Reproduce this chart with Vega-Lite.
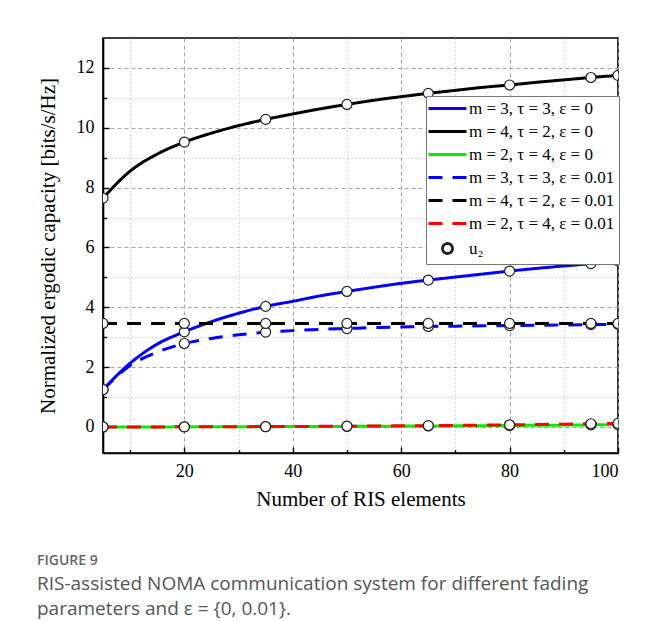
{
  "$schema": "https://vega.github.io/schema/vega-lite/v6.json",
  "width": 515,
  "height": 415,
  "autosize": "none",
  "padding": {"left": 103, "top": 38, "right": 36, "bottom": 168},
  "background": "white",
  "title": {
    "text": "FIGURE 9",
    "subtitle": ["RIS-assisted NOMA communication system for different fading", "parameters and ε = {0, 0.01}."],
    "orient": "bottom",
    "anchor": "start",
    "frame": "bounds",
    "offset": 45,
    "font": "Open Sans",
    "fontSize": 14,
    "fontWeight": 600,
    "color": "#666666",
    "subtitleFont": "Open Sans",
    "subtitleFontSize": 19,
    "subtitleColor": "#555555",
    "subtitlePadding": 7,
    "subtitleLineHeight": 25
  },
  "datasets": {
    "curves": [
      {"x": 5, "y": 1.25, "series": "m = 3, τ = 3, ε = 0"},
      {"x": 10, "y": 2.13, "series": "m = 3, τ = 3, ε = 0"},
      {"x": 15, "y": 2.77, "series": "m = 3, τ = 3, ε = 0"},
      {"x": 20, "y": 3.18, "series": "m = 3, τ = 3, ε = 0"},
      {"x": 25, "y": 3.52, "series": "m = 3, τ = 3, ε = 0"},
      {"x": 30, "y": 3.80, "series": "m = 3, τ = 3, ε = 0"},
      {"x": 35, "y": 4.03, "series": "m = 3, τ = 3, ε = 0"},
      {"x": 40, "y": 4.20, "series": "m = 3, τ = 3, ε = 0"},
      {"x": 45, "y": 4.38, "series": "m = 3, τ = 3, ε = 0"},
      {"x": 50, "y": 4.53, "series": "m = 3, τ = 3, ε = 0"},
      {"x": 55, "y": 4.67, "series": "m = 3, τ = 3, ε = 0"},
      {"x": 60, "y": 4.80, "series": "m = 3, τ = 3, ε = 0"},
      {"x": 65, "y": 4.91, "series": "m = 3, τ = 3, ε = 0"},
      {"x": 70, "y": 5.01, "series": "m = 3, τ = 3, ε = 0"},
      {"x": 75, "y": 5.11, "series": "m = 3, τ = 3, ε = 0"},
      {"x": 80, "y": 5.21, "series": "m = 3, τ = 3, ε = 0"},
      {"x": 85, "y": 5.30, "series": "m = 3, τ = 3, ε = 0"},
      {"x": 90, "y": 5.38, "series": "m = 3, τ = 3, ε = 0"},
      {"x": 95, "y": 5.46, "series": "m = 3, τ = 3, ε = 0"},
      {"x": 100, "y": 5.55, "series": "m = 3, τ = 3, ε = 0"},

      {"x": 5, "y": 7.65, "series": "m = 4, τ = 2, ε = 0"},
      {"x": 10, "y": 8.55, "series": "m = 4, τ = 2, ε = 0"},
      {"x": 15, "y": 9.12, "series": "m = 4, τ = 2, ε = 0"},
      {"x": 20, "y": 9.52, "series": "m = 4, τ = 2, ε = 0"},
      {"x": 25, "y": 9.82, "series": "m = 4, τ = 2, ε = 0"},
      {"x": 30, "y": 10.07, "series": "m = 4, τ = 2, ε = 0"},
      {"x": 35, "y": 10.28, "series": "m = 4, τ = 2, ε = 0"},
      {"x": 40, "y": 10.46, "series": "m = 4, τ = 2, ε = 0"},
      {"x": 45, "y": 10.63, "series": "m = 4, τ = 2, ε = 0"},
      {"x": 50, "y": 10.78, "series": "m = 4, τ = 2, ε = 0"},
      {"x": 55, "y": 10.92, "series": "m = 4, τ = 2, ε = 0"},
      {"x": 60, "y": 11.04, "series": "m = 4, τ = 2, ε = 0"},
      {"x": 65, "y": 11.15, "series": "m = 4, τ = 2, ε = 0"},
      {"x": 70, "y": 11.25, "series": "m = 4, τ = 2, ε = 0"},
      {"x": 75, "y": 11.35, "series": "m = 4, τ = 2, ε = 0"},
      {"x": 80, "y": 11.43, "series": "m = 4, τ = 2, ε = 0"},
      {"x": 85, "y": 11.52, "series": "m = 4, τ = 2, ε = 0"},
      {"x": 90, "y": 11.60, "series": "m = 4, τ = 2, ε = 0"},
      {"x": 95, "y": 11.68, "series": "m = 4, τ = 2, ε = 0"},
      {"x": 100, "y": 11.75, "series": "m = 4, τ = 2, ε = 0"},

      {"x": 5, "y": 0.0, "series": "m = 2, τ = 4, ε = 0"},
      {"x": 10, "y": 0.0, "series": "m = 2, τ = 4, ε = 0"},
      {"x": 15, "y": 0.002, "series": "m = 2, τ = 4, ε = 0"},
      {"x": 20, "y": 0.004, "series": "m = 2, τ = 4, ε = 0"},
      {"x": 25, "y": 0.006, "series": "m = 2, τ = 4, ε = 0"},
      {"x": 30, "y": 0.008, "series": "m = 2, τ = 4, ε = 0"},
      {"x": 35, "y": 0.010, "series": "m = 2, τ = 4, ε = 0"},
      {"x": 40, "y": 0.013, "series": "m = 2, τ = 4, ε = 0"},
      {"x": 45, "y": 0.016, "series": "m = 2, τ = 4, ε = 0"},
      {"x": 50, "y": 0.020, "series": "m = 2, τ = 4, ε = 0"},
      {"x": 55, "y": 0.024, "series": "m = 2, τ = 4, ε = 0"},
      {"x": 60, "y": 0.028, "series": "m = 2, τ = 4, ε = 0"},
      {"x": 65, "y": 0.033, "series": "m = 2, τ = 4, ε = 0"},
      {"x": 70, "y": 0.038, "series": "m = 2, τ = 4, ε = 0"},
      {"x": 75, "y": 0.044, "series": "m = 2, τ = 4, ε = 0"},
      {"x": 80, "y": 0.050, "series": "m = 2, τ = 4, ε = 0"},
      {"x": 85, "y": 0.056, "series": "m = 2, τ = 4, ε = 0"},
      {"x": 90, "y": 0.063, "series": "m = 2, τ = 4, ε = 0"},
      {"x": 95, "y": 0.070, "series": "m = 2, τ = 4, ε = 0"},
      {"x": 100, "y": 0.078, "series": "m = 2, τ = 4, ε = 0"},

      {"x": 5, "y": 1.25, "series": "m = 3, τ = 3, ε = 0.01"},
      {"x": 10, "y": 2.05, "series": "m = 3, τ = 3, ε = 0.01"},
      {"x": 15, "y": 2.50, "series": "m = 3, τ = 3, ε = 0.01"},
      {"x": 20, "y": 2.79, "series": "m = 3, τ = 3, ε = 0.01"},
      {"x": 25, "y": 2.96, "series": "m = 3, τ = 3, ε = 0.01"},
      {"x": 30, "y": 3.08, "series": "m = 3, τ = 3, ε = 0.01"},
      {"x": 35, "y": 3.17, "series": "m = 3, τ = 3, ε = 0.01"},
      {"x": 40, "y": 3.22, "series": "m = 3, τ = 3, ε = 0.01"},
      {"x": 45, "y": 3.26, "series": "m = 3, τ = 3, ε = 0.01"},
      {"x": 50, "y": 3.29, "series": "m = 3, τ = 3, ε = 0.01"},
      {"x": 55, "y": 3.32, "series": "m = 3, τ = 3, ε = 0.01"},
      {"x": 60, "y": 3.34, "series": "m = 3, τ = 3, ε = 0.01"},
      {"x": 65, "y": 3.36, "series": "m = 3, τ = 3, ε = 0.01"},
      {"x": 70, "y": 3.37, "series": "m = 3, τ = 3, ε = 0.01"},
      {"x": 75, "y": 3.38, "series": "m = 3, τ = 3, ε = 0.01"},
      {"x": 80, "y": 3.39, "series": "m = 3, τ = 3, ε = 0.01"},
      {"x": 85, "y": 3.40, "series": "m = 3, τ = 3, ε = 0.01"},
      {"x": 90, "y": 3.41, "series": "m = 3, τ = 3, ε = 0.01"},
      {"x": 95, "y": 3.42, "series": "m = 3, τ = 3, ε = 0.01"},
      {"x": 100, "y": 3.43, "series": "m = 3, τ = 3, ε = 0.01"},

      {"x": 5, "y": 3.46, "series": "m = 4, τ = 2, ε = 0.01"},
      {"x": 10, "y": 3.46, "series": "m = 4, τ = 2, ε = 0.01"},
      {"x": 15, "y": 3.46, "series": "m = 4, τ = 2, ε = 0.01"},
      {"x": 20, "y": 3.46, "series": "m = 4, τ = 2, ε = 0.01"},
      {"x": 25, "y": 3.46, "series": "m = 4, τ = 2, ε = 0.01"},
      {"x": 30, "y": 3.46, "series": "m = 4, τ = 2, ε = 0.01"},
      {"x": 35, "y": 3.46, "series": "m = 4, τ = 2, ε = 0.01"},
      {"x": 40, "y": 3.46, "series": "m = 4, τ = 2, ε = 0.01"},
      {"x": 45, "y": 3.46, "series": "m = 4, τ = 2, ε = 0.01"},
      {"x": 50, "y": 3.46, "series": "m = 4, τ = 2, ε = 0.01"},
      {"x": 55, "y": 3.46, "series": "m = 4, τ = 2, ε = 0.01"},
      {"x": 60, "y": 3.46, "series": "m = 4, τ = 2, ε = 0.01"},
      {"x": 65, "y": 3.46, "series": "m = 4, τ = 2, ε = 0.01"},
      {"x": 70, "y": 3.46, "series": "m = 4, τ = 2, ε = 0.01"},
      {"x": 75, "y": 3.46, "series": "m = 4, τ = 2, ε = 0.01"},
      {"x": 80, "y": 3.46, "series": "m = 4, τ = 2, ε = 0.01"},
      {"x": 85, "y": 3.46, "series": "m = 4, τ = 2, ε = 0.01"},
      {"x": 90, "y": 3.46, "series": "m = 4, τ = 2, ε = 0.01"},
      {"x": 95, "y": 3.46, "series": "m = 4, τ = 2, ε = 0.01"},
      {"x": 100, "y": 3.46, "series": "m = 4, τ = 2, ε = 0.01"},

      {"x": 5, "y": 0.0, "series": "m = 2, τ = 4, ε = 0.01"},
      {"x": 10, "y": 0.0, "series": "m = 2, τ = 4, ε = 0.01"},
      {"x": 15, "y": 0.002, "series": "m = 2, τ = 4, ε = 0.01"},
      {"x": 20, "y": 0.005, "series": "m = 2, τ = 4, ε = 0.01"},
      {"x": 25, "y": 0.007, "series": "m = 2, τ = 4, ε = 0.01"},
      {"x": 30, "y": 0.010, "series": "m = 2, τ = 4, ε = 0.01"},
      {"x": 35, "y": 0.013, "series": "m = 2, τ = 4, ε = 0.01"},
      {"x": 40, "y": 0.017, "series": "m = 2, τ = 4, ε = 0.01"},
      {"x": 45, "y": 0.021, "series": "m = 2, τ = 4, ε = 0.01"},
      {"x": 50, "y": 0.026, "series": "m = 2, τ = 4, ε = 0.01"},
      {"x": 55, "y": 0.032, "series": "m = 2, τ = 4, ε = 0.01"},
      {"x": 60, "y": 0.038, "series": "m = 2, τ = 4, ε = 0.01"},
      {"x": 65, "y": 0.045, "series": "m = 2, τ = 4, ε = 0.01"},
      {"x": 70, "y": 0.053, "series": "m = 2, τ = 4, ε = 0.01"},
      {"x": 75, "y": 0.062, "series": "m = 2, τ = 4, ε = 0.01"},
      {"x": 80, "y": 0.072, "series": "m = 2, τ = 4, ε = 0.01"},
      {"x": 85, "y": 0.083, "series": "m = 2, τ = 4, ε = 0.01"},
      {"x": 90, "y": 0.095, "series": "m = 2, τ = 4, ε = 0.01"},
      {"x": 95, "y": 0.108, "series": "m = 2, τ = 4, ε = 0.01"},
      {"x": 100, "y": 0.120, "series": "m = 2, τ = 4, ε = 0.01"}
    ]
  },
  "data": {"name": "curves"},
  "encoding": {
    "x": {
      "field": "x", "type": "quantitative",
      "scale": {"domain": [5, 100], "nice": false, "zero": false},
      "axis": {
        "title": "Number of RIS elements",
        "values": [10, 20, 30, 40, 50, 60, 70, 80, 90, 100],
        "labelExpr": "datum.value % 20 === 0 ? datum.label : ''",
        "tickSize": {"condition": {"test": "datum.value % 20 === 0", "value": -6}, "value": -3.5},
        "gridDash": {"condition": {"test": "datum.value % 20 === 0", "value": [4, 3]}, "value": [1.5, 2.5]},
        "gridColor": {"condition": {"test": "datum.value % 20 === 0", "value": "#9a9a9a"}, "value": "#c4c4c4"},
        "labelPadding": 15,
        "titlePadding": 8
      }
    },
    "y": {
      "field": "y", "type": "quantitative",
      "scale": {"domain": [-0.87, 13.0], "nice": false, "zero": false},
      "axis": {
        "title": "Normalized ergodic capacity [bits/s/Hz]",
        "values": [0, 1, 2, 3, 4, 5, 6, 7, 8, 9, 10, 11, 12],
        "labelExpr": "datum.value % 2 === 0 ? datum.label : ''",
        "tickSize": {"condition": {"test": "datum.value % 2 === 0", "value": -6}, "value": -3.5},
        "gridDash": {"condition": {"test": "datum.value % 2 === 0", "value": [4, 3]}, "value": [1.5, 2.5]},
        "gridColor": {"condition": {"test": "datum.value % 2 === 0", "value": "#9a9a9a"}, "value": "#c4c4c4"},
        "labelPadding": 15,
        "titlePadding": 18
      }
    }
  },
  "layer": [
    {
      "mark": {"type": "line", "strokeWidth": 3, "interpolate": "monotone", "clip": true},
      "encoding": {
        "detail": {"field": "series"},
        "color": {
          "field": "series", "type": "nominal",
          "scale": {
            "domain": ["m = 3, τ = 3, ε = 0", "m = 4, τ = 2, ε = 0", "m = 2, τ = 4, ε = 0", "m = 3, τ = 3, ε = 0.01", "m = 4, τ = 2, ε = 0.01", "m = 2, τ = 4, ε = 0.01", "u₂"],
            "range": ["#0000ff", "#000000", "#00ee00", "#0000ff", "#000000", "#ff0000", "#222222"]
          },
          "legend": {"title": null, "orient": "none", "legendX": 323, "legendY": 58}
        },
        "strokeDash": {
          "field": "series", "type": "nominal",
          "scale": {
            "domain": ["m = 3, τ = 3, ε = 0", "m = 4, τ = 2, ε = 0", "m = 2, τ = 4, ε = 0", "m = 3, τ = 3, ε = 0.01", "m = 4, τ = 2, ε = 0.01", "m = 2, τ = 4, ε = 0.01", "u₂"],
            "range": [[1, 0], [1, 0], [1, 0], [14, 10], [14, 10], [14, 10], [1, 0]]
          },
          "legend": {"title": null, "orient": "none", "legendX": 323, "legendY": 58}
        }
      }
    },
    {
      "transform": [{"filter": {"field": "x", "oneOf": [5, 20, 35, 50, 65, 80, 95, 100]}}],
      "mark": {"type": "point", "filled": false, "fill": "white", "fillOpacity": 1, "stroke": "#222222", "strokeWidth": 1.2, "size": 100, "opacity": 1, "clip": true},
      "encoding": {
        "shape": {
          "datum": "u₂", "type": "nominal",
          "scale": {
            "domain": ["m = 3, τ = 3, ε = 0", "m = 4, τ = 2, ε = 0", "m = 2, τ = 4, ε = 0", "m = 3, τ = 3, ε = 0.01", "m = 4, τ = 2, ε = 0.01", "m = 2, τ = 4, ε = 0.01", "u₂"],
            "range": ["M-3.8,0H3.8", "M-3.8,0H3.8", "M-3.8,0H3.8", "M-3.8,0H3.8", "M-3.8,0H3.8", "M-3.8,0H3.8", "circle"]
          },
          "legend": {"title": null, "orient": "none", "legendX": 323, "legendY": 58}
        }
      }
    }
  ],
  "config": {
    "font": "Liberation Serif",
    "view": {"stroke": "black", "strokeWidth": 1.6},
    "axis": {
      "grid": true,
      "gridWidth": 0.9,
      "domainColor": "black",
      "domainWidth": 1.6,
      "tickColor": "black",
      "tickWidth": 1.4,
      "labelFont": "Liberation Serif",
      "labelFontSize": 18,
      "labelColor": "black",
      "titleFont": "Liberation Serif",
      "titleFontSize": 21,
      "titleFontWeight": "normal",
      "titleColor": "black"
    },
    "legend": {
      "labelFont": "Liberation Serif",
      "labelFontSize": 17,
      "labelColor": "black",
      "labelLimit": 300,
      "symbolSize": 100,
      "symbolStrokeWidth": 2.8,
      "symbolFillColor": "white",
      "symbolOffset": 9,
      "labelOffset": 13,
      "rowPadding": 5,
      "padding": 4,
      "strokeColor": "#777777",
      "fillColor": "white",
      "cornerRadius": 0
    }
  }
}
